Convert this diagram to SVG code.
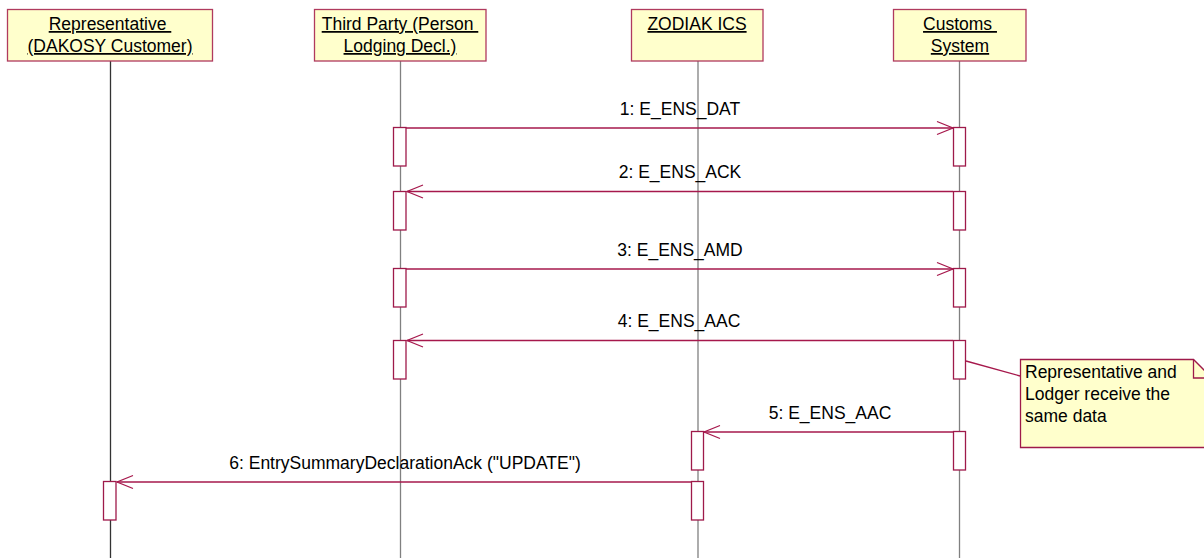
<svg xmlns="http://www.w3.org/2000/svg" width="1204" height="558" viewBox="0 0 1204 558">
<defs>
<style>
.hdr{fill:#FFFFCC;stroke:#B03A5E;stroke-width:1.3}
.ht{font-family:"Liberation Sans",Arial,sans-serif;font-size:17.5px;fill:#000;text-anchor:middle;text-decoration:underline;white-space:pre}
.life{stroke:#808080;stroke-width:1.3;fill:none}
.act{fill:#fff;stroke:#9E1A4A;stroke-width:1.3}
.msg{stroke:#A6184C;stroke-width:1.3;fill:none}
.lbl{font-family:"Liberation Sans",Arial,sans-serif;font-size:17.5px;fill:#000;text-anchor:middle}
.note{fill:#FFFFCC;stroke:#9E1A4A;stroke-width:1.3}
.nt{font-family:"Liberation Sans",Arial,sans-serif;font-size:17.5px;fill:#000}
</style>
<marker id="open" viewBox="0 0 18 16" refX="17" refY="8" markerWidth="18" markerHeight="16" markerUnits="userSpaceOnUse" orient="auto">
<path d="M1,1.5 L17,8 L1,14.5" fill="none" stroke="#A6184C" stroke-width="1.3"/>
</marker>
</defs>
<rect width="1204" height="558" fill="#fff"/>

<g id="lifelines">
<line class="life" x1="110.5" y1="61" x2="110.5" y2="558" style="stroke:#333"/>
<line class="life" x1="400.5" y1="61" x2="400.5" y2="558"/>
<line class="life" x1="698" y1="61" x2="698" y2="558"/>
<line class="life" x1="959.5" y1="61" x2="959.5" y2="558"/>
</g>

<g id="representative">
<rect class="hdr" x="7.5" y="9.5" width="205" height="51.5"/>
<text class="ht" x="110" y="30" xml:space="preserve">Representative </text>
<text class="ht" x="110" y="52">(DAKOSY Customer)</text>
<rect class="act" x="103.5" y="481.5" width="12.5" height="38.5"/>
</g>

<g id="third-party">
<rect class="hdr" x="314.5" y="9.5" width="171.5" height="51.5"/>
<text class="ht" x="400" y="30" xml:space="preserve">Third Party (Person </text>
<text class="ht" x="400" y="52">Lodging Decl.)</text>
<rect class="act" x="393.5" y="127.5" width="12.5" height="38.5"/>
<rect class="act" x="393.5" y="191.5" width="12.5" height="38.5"/>
<rect class="act" x="393.5" y="268.5" width="12.5" height="38.5"/>
<rect class="act" x="393.5" y="340.5" width="12.5" height="38.5"/>
</g>

<g id="zodiak">
<rect class="hdr" x="631.5" y="9.5" width="131.5" height="51.5"/>
<text class="ht" x="697" y="30">ZODIAK ICS</text>
<rect class="act" x="691.5" y="431.5" width="12" height="38.5"/>
<rect class="act" x="691.5" y="481.5" width="12" height="38.5"/>
</g>

<g id="customs">
<rect class="hdr" x="893.5" y="9.5" width="132.5" height="51.5"/>
<text class="ht" x="960" y="30" xml:space="preserve">Customs </text>
<text class="ht" x="960" y="52">System</text>
<rect class="act" x="953.5" y="127.5" width="12" height="38.5"/>
<rect class="act" x="953.5" y="191.5" width="12" height="38.5"/>
<rect class="act" x="953.5" y="268.5" width="12" height="38.5"/>
<rect class="act" x="953.5" y="340.5" width="12" height="38.5"/>
<rect class="act" x="953.5" y="431.5" width="12" height="38.5"/>
</g>

<g id="connectors">
<line class="msg" x1="406" y1="128" x2="953" y2="128" marker-end="url(#open)"/>
<line class="msg" x1="953" y1="191.5" x2="407" y2="191.5" marker-end="url(#open)"/>
<line class="msg" x1="406" y1="269" x2="953" y2="269" marker-end="url(#open)"/>
<line class="msg" x1="953" y1="340.5" x2="407" y2="340.5" marker-end="url(#open)"/>
<line class="msg" x1="953" y1="432" x2="704" y2="432" marker-end="url(#open)"/>
<line class="msg" x1="691" y1="482" x2="117" y2="482" marker-end="url(#open)"/>
<line class="msg" x1="966" y1="361" x2="1020" y2="376"/>
</g>

<g id="labels">
<text class="lbl" x="680" y="115">1: E_ENS_DAT</text>
<text class="lbl" x="680" y="178">2: E_ENS_ACK</text>
<text class="lbl" x="680" y="256">3: E_ENS_AMD</text>
<text class="lbl" x="679" y="327">4: E_ENS_AAC</text>
<text class="lbl" x="830" y="419">5: E_ENS_AAC</text>
<text class="lbl" x="405" y="469">6: EntrySummaryDeclarationAck ("UPDATE")</text>
</g>

<g id="note">
<path class="note" d="M1020.5,359.5 H1193.5 L1212,378 V447.5 H1020.5 Z"/>
<path d="M1193.5,359.5 V378 H1212" fill="none" stroke="#9E1A4A" stroke-width="1.3"/>
<text class="nt" x="1025" y="378">Representative and</text>
<text class="nt" x="1025" y="400">Lodger receive the</text>
<text class="nt" x="1025" y="422">same data</text>
</g>
</svg>
